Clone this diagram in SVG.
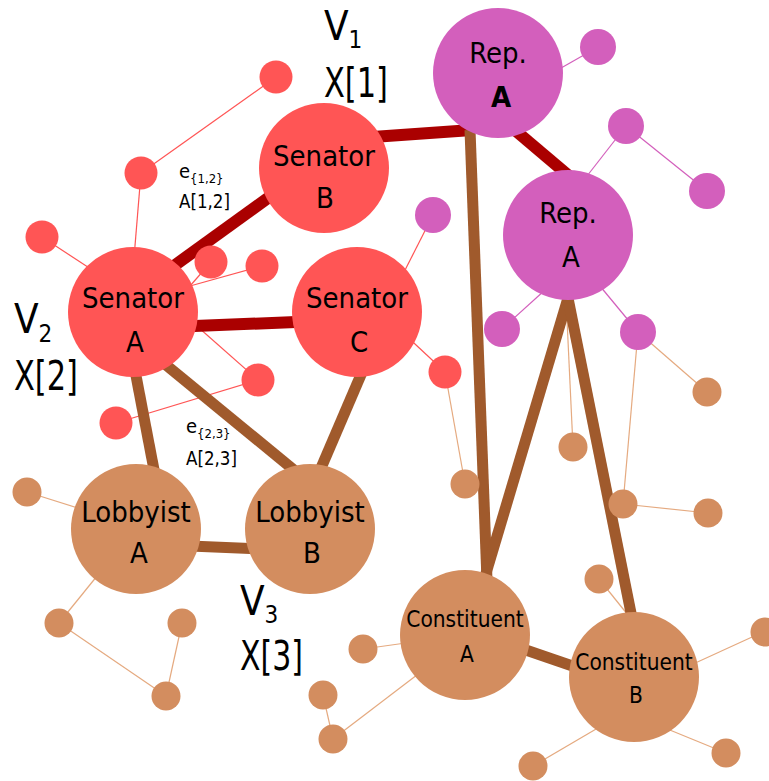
<svg xmlns="http://www.w3.org/2000/svg" width="769" height="781" viewBox="0 0 769 781">
<style>
text{font-family:"Ubuntu Condensed","Liberation Sans Narrow","DejaVu Sans Condensed","Roboto Condensed","Liberation Sans",sans-serif;font-stretch:condensed;fill:#000}
.red{fill:#ff5555}.pur{fill:#d35fbc}.org{fill:#d38d5f}
.tr{stroke:#ff5555;stroke-width:1.2;fill:none}
.tp{stroke:#d35fbc;stroke-width:1.2;fill:none}
.to{stroke:#e5aa80;stroke-width:1.2;fill:none}
.kr{stroke:#aa0000;stroke-width:12;fill:none}
.kb{stroke:#a05a2c;stroke-width:11;fill:none}
.lbl{font-size:29px;text-anchor:middle}
.lbs{font-size:22.5px;text-anchor:middle}
.big{font-size:40px}
.sub{font-size:24px}
.el{font-size:20px}
.es{font-size:13px}
</style>
<g id="connectors">
<line class="tr" x1="276" y1="77" x2="141" y2="173"/>
<line class="tr" x1="141" y1="173" x2="133" y2="270"/>
<line class="tr" x1="42" y1="237" x2="100" y2="275"/>
<line class="tr" x1="190" y1="286" x2="211" y2="262"/>
<line class="tr" x1="190" y1="286" x2="262" y2="266"/>
<line class="tr" x1="190" y1="320" x2="258" y2="380"/>
<line class="tr" x1="116" y1="423" x2="258" y2="380"/>
<line class="tr" x1="433" y1="215" x2="400" y2="280"/>
<line class="tr" x1="400" y1="330" x2="445" y2="372"/>
<line class="to" x1="445" y1="372" x2="465" y2="484"/>
<line class="tp" x1="540" y1="80" x2="598" y2="47"/>
<line class="tp" x1="626" y1="126" x2="580" y2="185"/>
<line class="tp" x1="626" y1="126" x2="707" y2="191"/>
<line class="tp" x1="545" y1="290" x2="502" y2="329"/>
<line class="tp" x1="595" y1="280" x2="638" y2="332"/>
<line class="to" x1="638" y1="332" x2="707" y2="392"/>
<line class="to" x1="638" y1="332" x2="623" y2="504"/>
<line class="to" x1="566" y1="298" x2="573" y2="447"/>
<line class="to" x1="623" y1="504" x2="708" y2="513"/>
<line class="to" x1="27" y1="492" x2="100" y2="515"/>
<line class="to" x1="110" y1="560" x2="59" y2="623"/>
<line class="to" x1="59" y1="623" x2="166" y2="696"/>
<line class="to" x1="182" y1="623" x2="166" y2="696"/>
<line class="to" x1="363" y1="649" x2="420" y2="641"/>
<line class="to" x1="323" y1="695" x2="333" y2="739"/>
<line class="to" x1="333" y1="739" x2="430" y2="665"/>
<line class="to" x1="599" y1="579" x2="640" y2="630"/>
<line class="to" x1="763" y1="632" x2="680" y2="670"/>
<line class="to" x1="533" y1="766" x2="620" y2="715"/>
<line class="to" x1="726" y1="753" x2="660" y2="726"/>
<line class="kr" x1="330" y1="140" x2="472" y2="130"/>
<line class="kr" x1="490" y1="109" x2="575" y2="181"/>
<line class="kr" x1="160" y1="276" x2="290" y2="182"/>
<line class="kr" x1="170" y1="327" x2="320" y2="321"/>
<line class="kb" x1="470" y1="130" x2="487" y2="580"/>
<line class="kb" x1="568" y1="298" x2="484" y2="580"/>
<line class="kb" x1="568" y1="298" x2="632" y2="618"/>
<line class="kb" x1="520" y1="648" x2="590" y2="672"/>
<line class="kb" x1="133" y1="360" x2="155" y2="475"/>
<line class="kb" x1="160" y1="360" x2="300" y2="475"/>
<line class="kb" x1="363" y1="370" x2="318" y2="475"/>
<line class="kb" x1="190" y1="546" x2="260" y2="549"/>
</g>
<g id="small-nodes">
<circle class="red" cx="276" cy="77" r="16.5"/>
<circle class="red" cx="141" cy="173" r="16.5"/>
<circle class="red" cx="42" cy="237" r="16.5"/>
<circle class="red" cx="211" cy="262" r="16.5"/>
<circle class="red" cx="262" cy="266" r="16.5"/>
<circle class="red" cx="258" cy="380" r="16.5"/>
<circle class="red" cx="116" cy="423" r="16.5"/>
<circle class="red" cx="445" cy="372" r="16.5"/>
<circle class="pur" cx="598" cy="47" r="18"/>
<circle class="pur" cx="626" cy="126" r="18"/>
<circle class="pur" cx="707" cy="191" r="18"/>
<circle class="pur" cx="433" cy="215" r="18"/>
<circle class="pur" cx="502" cy="329" r="18"/>
<circle class="pur" cx="638" cy="332" r="18"/>
<circle class="org" cx="707" cy="392" r="14.5"/>
<circle class="org" cx="573" cy="447" r="14.5"/>
<circle class="org" cx="465" cy="484" r="14.5"/>
<circle class="org" cx="623" cy="504" r="14.5"/>
<circle class="org" cx="708" cy="513" r="14.5"/>
<circle class="org" cx="27" cy="492" r="14.5"/>
<circle class="org" cx="59" cy="623" r="14.5"/>
<circle class="org" cx="182" cy="623" r="14.5"/>
<circle class="org" cx="166" cy="696" r="14.5"/>
<circle class="org" cx="363" cy="649" r="14.5"/>
<circle class="org" cx="323" cy="695" r="14.5"/>
<circle class="org" cx="333" cy="739" r="14.5"/>
<circle class="org" cx="599" cy="579" r="14.5"/>
<circle class="org" cx="765" cy="632" r="14.5"/>
<circle class="org" cx="533" cy="766" r="14.5"/>
<circle class="org" cx="726" cy="753" r="14.5"/>
</g>
<g id="senator-a"><circle class="red" cx="133" cy="312" r="65"/><text class="lbl" x="133" y="308">Senator</text><text class="lbl" x="135" y="352">A</text></g>
<g id="senator-b"><circle class="red" cx="324" cy="168" r="65"/><text class="lbl" x="324" y="166">Senator</text><text class="lbl" x="325" y="208">B</text></g>
<g id="senator-c"><circle class="red" cx="357" cy="312" r="65"/><text class="lbl" x="357" y="308">Senator</text><text class="lbl" x="359" y="352">C</text></g>
<g id="rep-a-1"><circle class="pur" cx="498" cy="73" r="65"/><text class="lbl" x="498" y="63">Rep.</text><text class="lbl" x="501" y="107" font-weight="bold">A</text></g>
<g id="rep-a-2"><circle class="pur" cx="568" cy="235" r="65"/><text class="lbl" x="568" y="223">Rep.</text><text class="lbl" x="571" y="267">A</text></g>
<g id="lobbyist-a"><circle class="org" cx="136" cy="529" r="65"/><text class="lbl" x="136" y="522">Lobbyist</text><text class="lbl" x="139" y="563">A</text></g>
<g id="lobbyist-b"><circle class="org" cx="310" cy="529" r="65"/><text class="lbl" x="310" y="522">Lobbyist</text><text class="lbl" x="312" y="563">B</text></g>
<g id="constituent-a"><circle class="org" cx="465" cy="635" r="65"/><text class="lbs" x="465" y="627">Constituent</text><text class="lbs" x="467" y="662">A</text></g>
<g id="constituent-b"><circle class="org" cx="634" cy="677" r="65"/><text class="lbs" x="634" y="670">Constituent</text><text class="lbs" x="636" y="703">B</text></g>
<g id="labels">
<text x="324" y="40" class="big">V<tspan class="sub" dy="8">1</tspan></text>
<text x="324" y="97" class="big" textLength="64" lengthAdjust="spacingAndGlyphs">X[1]</text>
<text x="14" y="333" class="big">V<tspan class="sub" dy="9">2</tspan></text>
<text x="14" y="390" class="big" textLength="64" lengthAdjust="spacingAndGlyphs">X[2]</text>
<text x="240" y="615" class="big">V<tspan class="sub" dy="8">3</tspan></text>
<text x="240" y="670" class="big" textLength="63" lengthAdjust="spacingAndGlyphs">X[3]</text>
<text x="179" y="178" class="el">e<tspan class="es" dy="5">{1,2}</tspan></text>
<text x="179" y="208" class="el" textLength="51" lengthAdjust="spacingAndGlyphs">A[1,2]</text>
<text x="186" y="433" class="el">e<tspan class="es" dy="5">{2,3}</tspan></text>
<text x="186" y="465" class="el" textLength="51" lengthAdjust="spacingAndGlyphs">A[2,3]</text>
</g>
</svg>
